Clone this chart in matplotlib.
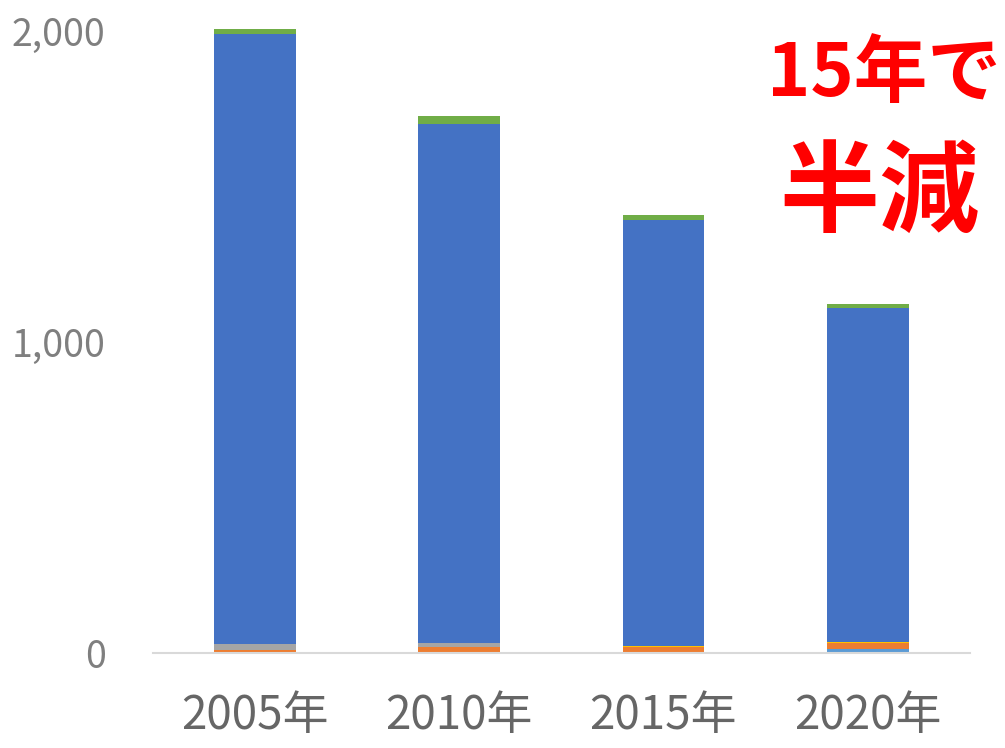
import numpy as np
import matplotlib
matplotlib.use("Agg")
import matplotlib.pyplot as plt

plt.rcParams['font.family'] = ['Noto Sans CJK JP', 'DejaVu Sans']

years = ['2005年', '2010年', '2015年', '2020年']
# stacked segments, bottom to top
light_blue = [2, 3, 4, 12]
orange = [7, 15, 16, 19]
gray = [19, 15, 0, 0]
yellow = [0, 0, 3, 4]
blue = [1964, 1669, 1370, 1073]
green = [16, 24, 16, 14]

series = [light_blue, orange, gray, yellow, blue, green]
colors = ['#5B9BD5', '#ED7D31', '#A5A5A5', '#FFC000', '#4472C4', '#70AD47']

fig = plt.figure(figsize=(10.05, 7.48), dpi=100)
ax = fig.add_axes([0.152, 0.127, 0.813, 0.873])

x = np.arange(len(years))
bottom = np.zeros(len(years))
for vals, c in zip(series, colors):
    ax.bar(x, vals, 0.4, bottom=bottom, color=c, linewidth=0)
    bottom += np.array(vals)

ax.set_xlim(-0.5, 3.5)
ax.set_ylim(0, 2100)
ax.set_yticks([0, 1000, 2000])
ax.set_yticklabels(['0', '1,000', '2,000'])
ax.set_xticks(x)
ax.set_xticklabels(years)
ax.tick_params(axis='y', length=0, labelsize=27, labelcolor='#7F7F7F', pad=34)
ax.tick_params(axis='x', length=0, labelsize=33, labelcolor='#666666', pad=28)
for s in ['top', 'right', 'left']:
    ax.spines[s].set_visible(False)
ax.spines['bottom'].set_color('#D9D9D9')
ax.spines['bottom'].set_linewidth(1.5)

fig.text(0.88, 0.9, '15年で', color='#FF0000', fontsize=53, fontweight='bold',
         ha='center', va='center')
fig.text(0.875, 0.74, '半減', color='#FF0000', fontsize=72, fontweight='bold',
         ha='center', va='center')

fig.savefig('out.png', dpi=100)
